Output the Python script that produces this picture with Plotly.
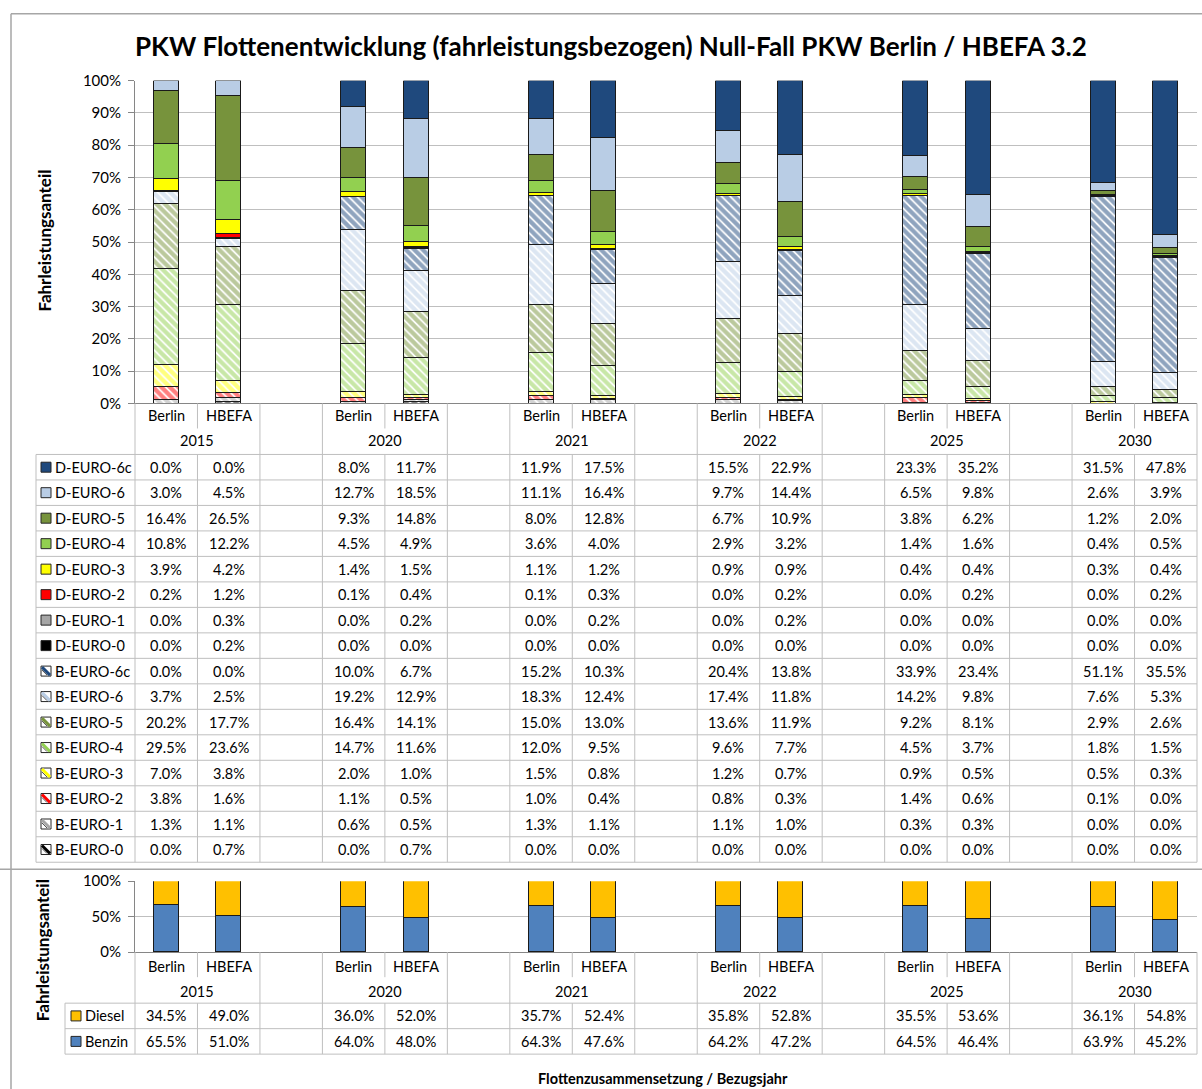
import plotly.graph_objects as go

# --- Daten ---
years = ["2015", "2020", "2021", "2022", "2025", "2030"]
sources = ["Berlin", "HBEFA"]

# Anteile in %, Reihenfolge je Liste: 2015 Berlin, 2015 HBEFA, 2020 Berlin, 2020 HBEFA, ...
d_euro_6c = [0.0, 0.0, 8.0, 11.7, 11.9, 17.5, 15.5, 22.9, 23.3, 35.2, 31.5, 47.8]
d_euro_6 = [3.0, 4.5, 12.7, 18.5, 11.1, 16.4, 9.7, 14.4, 6.5, 9.8, 2.6, 3.9]
d_euro_5 = [16.4, 26.5, 9.3, 14.8, 8.0, 12.8, 6.7, 10.9, 3.8, 6.2, 1.2, 2.0]
d_euro_4 = [10.8, 12.2, 4.5, 4.9, 3.6, 4.0, 2.9, 3.2, 1.4, 1.6, 0.4, 0.5]
d_euro_3 = [3.9, 4.2, 1.4, 1.5, 1.1, 1.2, 0.9, 0.9, 0.4, 0.4, 0.3, 0.4]
d_euro_2 = [0.2, 1.2, 0.1, 0.4, 0.1, 0.3, 0.0, 0.2, 0.0, 0.2, 0.0, 0.2]
d_euro_1 = [0.0, 0.3, 0.0, 0.2, 0.0, 0.2, 0.0, 0.2, 0.0, 0.0, 0.0, 0.0]
d_euro_0 = [0.0, 0.2, 0.0, 0.0, 0.0, 0.0, 0.0, 0.0, 0.0, 0.0, 0.0, 0.0]
b_euro_6c = [0.0, 0.0, 10.0, 6.7, 15.2, 10.3, 20.4, 13.8, 33.9, 23.4, 51.1, 35.5]
b_euro_6 = [3.7, 2.5, 19.2, 12.9, 18.3, 12.4, 17.4, 11.8, 14.2, 9.8, 7.6, 5.3]
b_euro_5 = [20.2, 17.7, 16.4, 14.1, 15.0, 13.0, 13.6, 11.9, 9.2, 8.1, 2.9, 2.6]
b_euro_4 = [29.5, 23.6, 14.7, 11.6, 12.0, 9.5, 9.6, 7.7, 4.5, 3.7, 1.8, 1.5]
b_euro_3 = [7.0, 3.8, 2.0, 1.0, 1.5, 0.8, 1.2, 0.7, 0.9, 0.5, 0.5, 0.3]
b_euro_2 = [3.8, 1.6, 1.1, 0.5, 1.0, 0.4, 0.8, 0.3, 1.4, 0.6, 0.1, 0.0]
b_euro_1 = [1.3, 1.1, 0.6, 0.5, 1.3, 1.1, 1.1, 1.0, 0.3, 0.3, 0.0, 0.0]
b_euro_0 = [0.0, 0.7, 0.0, 0.7, 0.0, 0.0, 0.0, 0.0, 0.0, 0.0, 0.0, 0.0]

diesel = [34.5, 49.0, 36.0, 52.0, 35.7, 52.4, 35.8, 52.8, 35.5, 53.6, 36.1, 54.8]
benzin = [65.5, 51.0, 64.0, 48.0, 64.3, 47.6, 64.2, 47.2, 64.5, 46.4, 63.9, 45.2]

# Farben je Euro-Stufe
stage_colors = {"6c": "#1F497D", "6": "#B9CDE5", "5": "#77933C", "4": "#92D050",
                "3": "#FFFF00", "2": "#FF0000", "1": "#A6A6A6", "0": "#000000"}
diesel_color = "#FFC000"
benzin_color = "#4F81BD"

# Tabellenreihenfolge (oben -> unten)
table_rows = [
    ("D-EURO-6c", "6c", d_euro_6c), ("D-EURO-6", "6", d_euro_6), ("D-EURO-5", "5", d_euro_5),
    ("D-EURO-4", "4", d_euro_4), ("D-EURO-3", "3", d_euro_3), ("D-EURO-2", "2", d_euro_2),
    ("D-EURO-1", "1", d_euro_1), ("D-EURO-0", "0", d_euro_0),
    ("B-EURO-6c", "6c", b_euro_6c), ("B-EURO-6", "6", b_euro_6), ("B-EURO-5", "5", b_euro_5),
    ("B-EURO-4", "4", b_euro_4), ("B-EURO-3", "3", b_euro_3), ("B-EURO-2", "2", b_euro_2),
    ("B-EURO-1", "1", b_euro_1), ("B-EURO-0", "0", b_euro_0),
]

# --- Geometrie (Pixel im Zielbild) ---
W, H = 1202, 1089
X0, X1 = 135, 1197          # Plotbereich links/rechts
NCOL = 3 * len(years) - 1   # Berlin, HBEFA, Leerspalte
COLW = (X1 - X0) / NCOL
FONT = "Lato, Calibri, Arial, sans-serif"
GRID = "#BFBFBF"
AXIS = "#868686"
EDGE = "#1a1a1a"
# die Seite wird beim Abfotografieren leicht gestaucht/verschoben -> ausgleichen
Y_OFF, Y_SCALE = 9.3, 0.984


def fx(px):
    return px / W


def fy(py):
    return 1 - ((py - Y_OFF) / Y_SCALE) / H


def col_center(i):
    return X0 + (i + 0.5) * COLW


x_pos = [3 * j + k for j in range(len(years)) for k in range(len(sources))]
x_src = [s for _ in years for s in sources]

fig = go.Figure()

# gestapelte Balken oben: von unten nach oben
for name, stage, vals in reversed(table_rows):
    col = stage_colors[stage]
    if name.startswith("B"):
        marker = dict(color="white", line=dict(color=EDGE, width=1),
                      pattern=dict(shape="\\", fgcolor=col, bgcolor="white", size=6, solidity=0.7))
    else:
        marker = dict(color=col, line=dict(color=EDGE, width=1))
    fig.add_trace(go.Bar(x=x_pos, y=vals, name=name, marker=marker, width=0.4,
                         xaxis="x", yaxis="y", showlegend=False))

fig.add_trace(go.Bar(x=x_pos, y=benzin, name="Benzin", width=0.4, xaxis="x2", yaxis="y2",
                     marker=dict(color=benzin_color, line=dict(color=EDGE, width=1)), showlegend=False))
fig.add_trace(go.Bar(x=x_pos, y=diesel, name="Diesel", width=0.4, xaxis="x2", yaxis="y2",
                     marker=dict(color=diesel_color, line=dict(color=EDGE, width=1)), showlegend=False))

shapes = []
annotations = []


def hline(y, xa, xb, color=GRID, width=1):
    shapes.append(dict(type="line", xref="paper", yref="paper", x0=fx(xa), x1=fx(xb),
                       y0=fy(y), y1=fy(y), line=dict(color=color, width=width)))


def vline(x, ya, yb, color=GRID, width=1):
    shapes.append(dict(type="line", xref="paper", yref="paper", x0=fx(x), x1=fx(x),
                       y0=fy(ya), y1=fy(yb), line=dict(color=color, width=width)))


def text(x, y, s, size=14.5, anchor="center", bold=False, angle=0):
    annotations.append(dict(xref="paper", yref="paper", x=fx(x), y=fy(y), text=f"<b>{s}</b>" if bold else s,
                            showarrow=False, xanchor=anchor, yanchor="middle", textangle=angle,
                            font=dict(size=size, color="black", family=FONT)))


def key(x, y, color, hatched):
    s = 5
    if hatched:
        shapes.append(dict(type="rect", xref="paper", yref="paper", x0=fx(x - s), x1=fx(x + s),
                           y0=fy(y + s), y1=fy(y - s), fillcolor="white", line=dict(color="#262626", width=1)))
        shapes.append(dict(type="line", xref="paper", yref="paper", x0=fx(x - s + 1), x1=fx(x + s - 1),
                           y0=fy(y - s + 1), y1=fy(y + s - 1), line=dict(color=color, width=3)))
        shapes.append(dict(type="line", xref="paper", yref="paper", x0=fx(x - s + 1), x1=fx(x + s - 4),
                           y0=fy(y - s + 4), y1=fy(y + s - 1), line=dict(color="#262626", width=0.8)))
    else:
        shapes.append(dict(type="rect", xref="paper", yref="paper", x0=fx(x - s), x1=fx(x + s),
                           y0=fy(y + s), y1=fy(y - s), fillcolor=color, line=dict(color="#262626", width=1)))


def data_table(axis_y, lab_y, year_y, top, row_h, legend_left, rows, key_x, label_x):
    bottom = top + row_h * len(rows)
    # Kategoriebeschriftungen
    for p, s in zip(x_pos, x_src):
        text(col_center(p), lab_y, s)
    for j, yr in enumerate(years):
        text(X0 + (3 * j + 1) * COLW, year_y, yr)
    # senkrechte Linien
    for c in range(NCOL + 1):
        xb = X0 + c * COLW
        if c % 3 == 1:
            vline(xb, axis_y, axis_y + 25)
            vline(xb, top, bottom)
        else:
            vline(xb, axis_y, bottom)
    vline(legend_left, top, bottom)
    # waagerechte Linien
    for r in range(len(rows) + 1):
        hline(top + r * row_h, legend_left, X1)
    # Zellen
    for r, (name, color, hatched, vals) in enumerate(rows):
        yc = top + (r + 0.5) * row_h
        key(key_x, yc, color, hatched)
        text(label_x, yc, name, anchor="left")
        for p, v in zip(x_pos, vals):
            text(col_center(p), yc, f"{v:.1f}%")


top_rows = [(n, stage_colors[s], n.startswith("B"), v) for n, s, v in table_rows]
data_table(403, 415, 440, 454, 25.5, 36, top_rows, 46, 53)

bottom_rows = [("Diesel", diesel_color, False, diesel), ("Benzin", benzin_color, False, benzin)]
data_table(952, 966, 991, 1003, 25.5, 65, bottom_rows, 76, 83)

# Rahmen
hline(13, 11, W, color="#A6A6A6", width=1.5)
vline(11, 13, H, color="#A6A6A6", width=1.5)
hline(869, 0, W, color="#A6A6A6", width=1.5)

# Titel und Achsentitel
text(611, 45, "PKW Flottenentwicklung (fahrleistungsbezogen) Null-Fall PKW Berlin / HBEFA 3.2", size=26, bold=True)
text(45, 240, "Fahrleistungsanteil", size=17, bold=True, angle=-90)
text(42, 950, "Fahrleistungsanteil", size=17, bold=True, angle=-90)
text(663, 1078, "Flottenzusammensetzung / Bezugsjahr", size=14.5, bold=True)

xcommon = dict(domain=[fx(X0), fx(X1)], range=[-0.5, NCOL - 0.5], showticklabels=False,
               showgrid=False, zeroline=False, showline=True, linecolor=AXIS, ticks="", fixedrange=True)
ycommon = dict(range=[0, 1], tickformat=".0%", showgrid=True, gridcolor=GRID, zeroline=False,
               showline=True, linecolor=AXIS, ticks="outside", ticklen=6, tickcolor=AXIS,
               tickfont=dict(size=15, family=FONT, color="black"), ticklabelstandoff=4)

fig.update_layout(
    width=W, height=H,
    margin=dict(l=0, r=0, t=0, b=0),
    paper_bgcolor="white", plot_bgcolor="white",
    barmode="stack", barnorm="fraction", bargap=0,
    font=dict(family=FONT, color="black"),
    xaxis=dict(anchor="y", **xcommon),
    yaxis=dict(anchor="x", domain=[fy(403), fy(80)], dtick=0.1, **ycommon),
    xaxis2=dict(anchor="y2", **xcommon),
    yaxis2=dict(anchor="x2", domain=[fy(952), fy(881)], dtick=0.5, **ycommon),
    shapes=shapes,
    annotations=annotations,
)

# Seite ohne Rand, Grafik fest oben links
page_js = ("document.body.style.margin='0';document.body.style.overflow='hidden';"
           "var d=document.getElementById('{plot_id}');d.style.position='fixed';"
           "d.style.left='0px';d.style.top='0px';")
fig.write_html("out.html", config={"displayModeBar": False}, post_script=page_js)
